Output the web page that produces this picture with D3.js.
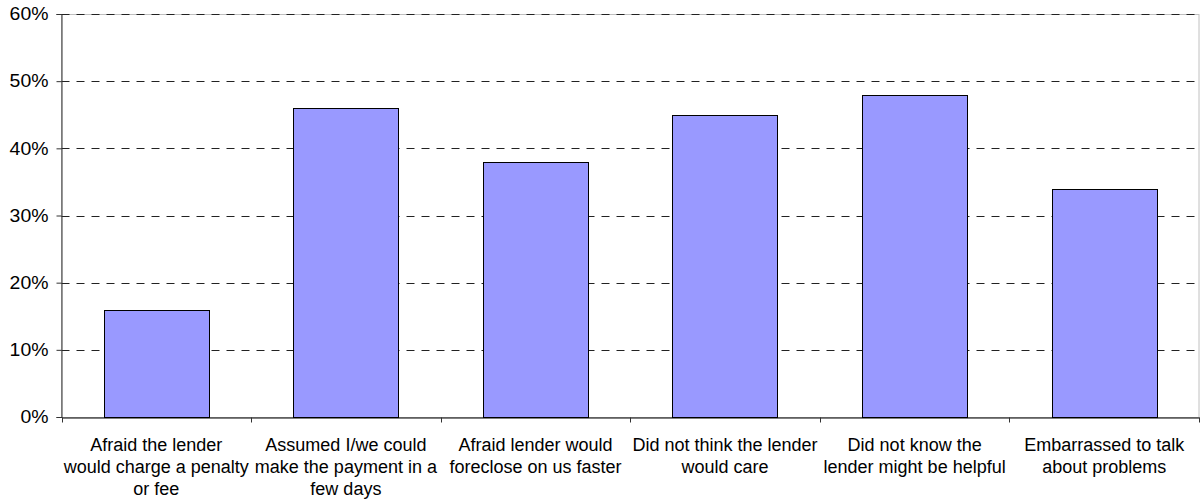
<!DOCTYPE html>
<html>
<head>
<meta charset="utf-8">
<script src="https://cdn.jsdelivr.net/npm/d3@7"></script>
<style>
  html, body { margin: 0; padding: 0; background: #fff; }
  svg { display: block; font-family: "Liberation Sans", Arial, sans-serif; }
</style>
</head>
<body>
<svg id="chart" width="1200" height="500"></svg>
<script>
// ---- data ----
const categories = [
  "Afraid the lender would charge a penalty or fee",
  "Assumed I/we could make the payment in a few days",
  "Afraid lender would foreclose on us faster",
  "Did not think the lender would care",
  "Did not know the lender might be helpful",
  "Embarrassed to talk about problems"
];
const categoryLines = [
  ["Afraid the lender", "would charge a penalty", "or fee"],
  ["Assumed I/we could", "make the payment in a", "few days"],
  ["Afraid lender would", "foreclose on us faster"],
  ["Did not think the lender", "would care"],
  ["Did not know the", "lender might be helpful"],
  ["Embarrassed to talk", "about problems"]
];
const values = [0.16, 0.46, 0.38, 0.45, 0.48, 0.34];
const yTicks = [0, 0.1, 0.2, 0.3, 0.4, 0.5, 0.6];

// ---- layout ----
const svg = d3.select("#chart");
const plotLeft = 61.5, plotRight = 1199, plotTop = 14, plotBottom = 417;

const x = d3.scaleBand().domain(categories).range([plotLeft, plotRight]).padding(0);
const y = d3.scaleLinear().domain([0, 0.6]).range([plotBottom, plotTop]);
const barFrac = 0.555;

// plot border (light gray)
svg.append("rect")
  .attr("x", plotLeft).attr("y", y(0.6) + 0.5)
  .attr("width", plotRight - plotLeft).attr("height", plotBottom - y(0.6))
  .attr("fill", "none").attr("stroke", "#c0c0c0").attr("stroke-width", 1);

// gridlines
svg.append("g").selectAll("line")
  .data(yTicks.filter(d => d > 0))
  .join("line")
  .attr("x1", plotLeft).attr("x2", plotRight)
  .attr("y1", d => Math.round(y(d)) + 0.5).attr("y2", d => Math.round(y(d)) + 0.5)
  .attr("stroke", "#222").attr("stroke-width", 1)
  .attr("stroke-dasharray", "8,7");

// bars
svg.append("g").selectAll("rect")
  .data(categories)
  .join("rect")
  .attr("x", (d) => Math.round(x(d) + x.bandwidth() * (1 - barFrac) / 2) + 0.5)
  .attr("width", Math.round(x.bandwidth() * barFrac))
  .attr("y", (d, i) => Math.round(y(values[i])) + 0.5)
  .attr("height", (d, i) => Math.round(y(0)) - Math.round(y(values[i])))
  .attr("fill", "#9999ff").attr("stroke", "#000").attr("stroke-width", 1);

// y axis
const yAxis = d3.axisLeft(y).tickValues(yTicks).tickSize(5).tickPadding(7)
  .tickFormat(d3.format(".0%"));
const gy = svg.append("g").attr("transform", `translate(${plotLeft},0)`).call(yAxis);
gy.select(".domain").attr("stroke", "#333");
gy.selectAll(".tick line").attr("stroke", "#333");
gy.selectAll(".tick text")
  .attr("font-size", 18).attr("fill", "#000")
  .attr("font-family", "'Liberation Sans', Arial, sans-serif")
  .each(function() {
    const t = d3.select(this);
    const xx = +t.attr("x");
    t.attr("x", null).attr("transform", `translate(${xx - 1},0) scale(1.08,1)`);
  });

// x axis
const xAxis = d3.axisBottom(x).tickSize(0).tickFormat("");
const gx = svg.append("g").attr("transform", `translate(0,${plotBottom + 0.5})`).call(xAxis);
gx.select(".domain").attr("stroke", "#000");
const boundaries = categories.map(c => x(c)).concat([plotRight]);
gx.selectAll(".bnd").data(boundaries).join("line").attr("class", "bnd")
  .attr("x1", d => Math.round(d) + 0.5).attr("x2", d => Math.round(d) + 0.5)
  .attr("y1", 0).attr("y2", 5).attr("stroke", "#333");

// category labels
const lab = svg.append("g");
categories.forEach((c, i) => {
  const cx = x(c) + x.bandwidth() / 2;
  const g = lab.append("g").attr("transform", `translate(${cx},0)`);
  categoryLines[i].forEach((line, j) => {
    g.append("text")
      .attr("x", 0).attr("y", 451 + j * 22)
      .attr("text-anchor", "middle")
      .attr("font-size", 18).attr("fill", "#000")
      .text(line);
  });
});
</script>
</body>
</html>
